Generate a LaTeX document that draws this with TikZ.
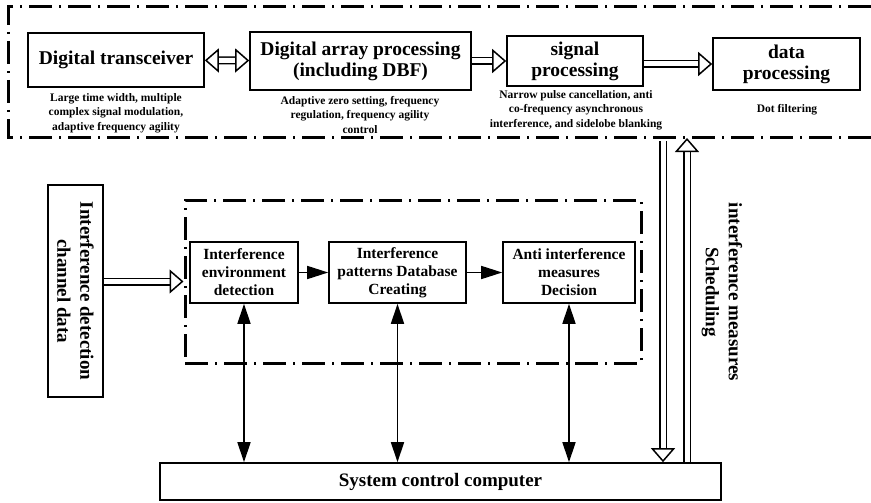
\documentclass[tikz,border=0pt]{standalone}
\usepackage{fontspec}
\setmainfont{Liberation Serif}
\usetikzlibrary{arrows.meta}

\begin{document}
\begin{tikzpicture}[x=1pt, y=-1pt,
		bigbox/.style={draw, line width=1.6pt, align=center, inner sep=0pt, font=\fontsize{19.5}{21}\selectfont\bfseries},
		note/.style={align=center, inner sep=0pt, font=\fontsize{11.5}{14.5}\selectfont\bfseries},
		smallbox/.style={draw, line width=1.6pt, align=center, inner sep=0pt, minimum height=61, font=\fontsize{15.5}{18}\selectfont\bfseries},
		frame/.style={line width=3pt, dash pattern=on 23pt off 7pt on 2pt off 7pt},
		hollow/.style={double, double distance=5pt, line width=1.5pt},
		hh/.tip={Triangle[length=14pt, width=24pt, line width=1.5pt, fill=white]},
		thin/.style={line width=1.6pt, {Triangle[length=20pt, width=13pt]}-{Triangle[length=20pt, width=13pt]}},
		flow/.style={line width=1.6pt, -{Triangle[length=21pt, width=13pt]}}]
		\useasboundingbox (0,0) rectangle (871,503);
		
		\begin{scope}
			\draw[frame] (871,7) -- (8,7) -- (8,137) -- (871,137);
			\node[bigbox, minimum width=176, minimum height=54] (trx) at (116,60) {Digital transceiver};
			\node[bigbox, minimum width=221, minimum height=58] (dap) at (360.5,61) {Digital array processing\\(including DBF)};
			\node[bigbox, minimum width=136, minimum height=50] (sig) at (575,61) {signal\\processing};
			\node[bigbox, minimum width=147, minimum height=52] (dat) at (786.5,64) {data\\processing};
			\node[note] (trxnote) at (116,113) {Large time width, multiple\\complex signal modulation,\\adaptive frequency agility};
			\node[note] (dapnote) at (360,115) {Adaptive zero setting, frequency\\regulation, frequency agility\\control};
			\node[note] (signote) at (576,110) {Narrow pulse cancellation, anti\\co-frequency asynchronous\\interference, and sidelobe blanking};
			\node[note] (datnote) at (787,110) {Dot filtering};
			\draw[hollow, {hh}-{hh}] (trx) -- (dap);
			\draw[hollow, -{hh}] (dap.east |- sig) -- (sig);
			\draw[hollow, -{hh}] (sig.east |- dat) -- (dat);
		\end{scope}
		
		\begin{scope}
			\node[frame, draw, minimum width=456, minimum height=163] (zone) at (413,281.5) {};
			\node[bigbox, rotate=-90, minimum width=212, minimum height=55, font=\fontsize{19}{23}\selectfont\bfseries] (det) at (75.5,291) {Interference detection\\channel data};
			\node[smallbox, minimum width=108] (env) at (244,272.5) {Interference\\environment\\detection};
			\node[smallbox, minimum width=137] (pat) at (397.5,272.5) {Interference\\patterns Database\\Creating};
			\node[smallbox, minimum width=132] (anti) at (569,272.5) {Anti interference\\measures\\Decision};
			\node[bigbox, minimum width=561, minimum height=37, font=\fontsize{19}{21}\selectfont\bfseries] (pc) at (440.5,481.5) {System control computer};
			\node[rotate=-90, align=center, font=\fontsize{19}{23}\selectfont\bfseries] (sched) at (722,292) {interference measures\\Scheduling};
			\draw[hollow, -{hh}] (det.north |- zone.west) -- (zone.west);
			\draw[flow] (env) -- (pat);
			\draw[flow] (pat) -- (anti);
			\draw[thin] (env.south) -- (env.south |- pc.north);
			\draw[thin] (pat.south) -- (pat.south |- pc.north);
			\draw[thin] (anti.south) -- (anti.south |- pc.north);
			\coordinate (dn) at (663,141);
			\coordinate (up) at (687,138);
			\draw[hollow, -{hh}] (dn) -- (dn |- pc.north);
			\draw[hollow, -{hh}] (up |- pc.north) -- (up);
		\end{scope}
	\end{tikzpicture}
\end{document}
